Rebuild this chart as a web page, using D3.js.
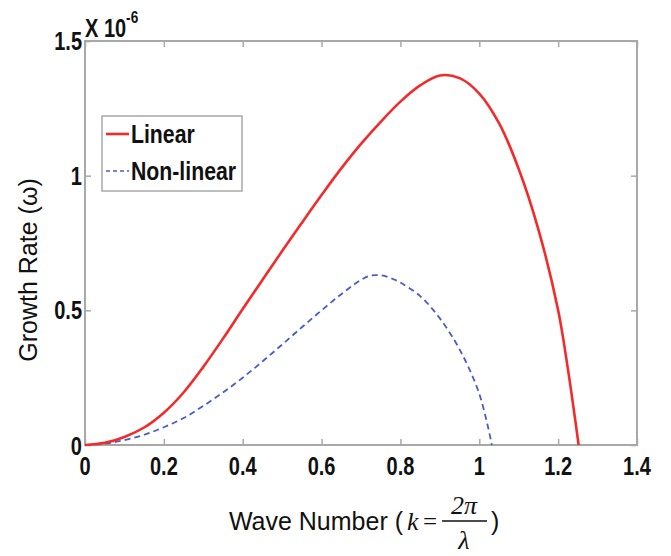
<!DOCTYPE html>
<html><head><meta charset="utf-8">
<script src="https://cdn.jsdelivr.net/npm/d3@7"></script>
<style>
body{margin:0;background:#fff;}
svg{display:block;}
.tick-lbl{font-family:"Liberation Sans",Arial,sans-serif;font-weight:bold;fill:#111;}
</style></head>
<body>
<svg id="chart" width="671" height="556"></svg>
<script>
const kLinear = [0,0.05,0.1,0.15,0.2,0.25,0.3,0.35,0.4,0.45,0.5,0.55,0.6,0.65,0.7,0.75,0.8,0.85,0.9,0.95,1.0,1.05,1.1,1.15,1.2,1.225,1.252];
const linear  = [0,0.008,0.03,0.065,0.12,0.195,0.29,0.395,0.505,0.613,0.72,0.825,0.928,1.027,1.118,1.2,1.275,1.335,1.372,1.362,1.305,1.195,1.025,0.8,0.5,0.28,0];
const kNonlinear = [0,0.05,0.1,0.15,0.2,0.25,0.3,0.35,0.4,0.45,0.5,0.55,0.6,0.65,0.7,0.725,0.75,0.775,0.8,0.85,0.9,0.95,1.0,1.032];
const nonlinear  = [0,0.005,0.018,0.038,0.066,0.1,0.145,0.195,0.25,0.31,0.373,0.437,0.5,0.56,0.613,0.629,0.63,0.62,0.603,0.553,0.47,0.355,0.19,0];
const xTicks = [0,0.2,0.4,0.6,0.8,1,1.2,1.4];
const yTicks = [0,0.5,1,1.5];
const seriesNames = ["Linear","Non-linear"];

const svg = d3.select("#chart");
const L=85,R=637,T=41,B=445;
const x = d3.scaleLinear().domain([0,1.4]).range([L,R]);
const y = d3.scaleLinear().domain([0,1.5]).range([B,T]);
const axisColor="#a8a8a8";

svg.append("rect").attr("x",L).attr("y",T).attr("width",R-L).attr("height",B-T)
  .attr("fill","none").attr("stroke",axisColor).attr("stroke-width",2);

const tl=6;
function styleAx(g){g.select(".domain").remove();g.selectAll("line").attr("stroke",axisColor).attr("stroke-width",1.5);}
svg.append("g").attr("transform",`translate(0,${B})`).call(d3.axisBottom(x).tickValues(xTicks).tickSize(-tl).tickFormat("")).call(styleAx);
svg.append("g").attr("transform",`translate(0,${T})`).call(d3.axisTop(x).tickValues(xTicks).tickSize(-tl).tickFormat("")).call(styleAx);
svg.append("g").attr("transform",`translate(${L},0)`).call(d3.axisLeft(y).tickValues(yTicks).tickSize(-tl).tickFormat("")).call(styleAx);
svg.append("g").attr("transform",`translate(${R},0)`).call(d3.axisRight(y).tickValues(yTicks).tickSize(-tl).tickFormat("")).call(styleAx);

const sx=0.8;
svg.append("g").selectAll("text").data(xTicks).join("text")
  .attr("class","tick-lbl").attr("transform",d=>`translate(${x(d)},${B+30}) scale(${sx},1)`)
  .attr("text-anchor","middle").attr("font-size",25).text(d=>d3.format("")(d));
svg.append("g").selectAll("text").data(yTicks).join("text")
  .attr("class","tick-lbl").attr("transform",d=>`translate(${L-3},${y(d)+(d===0?10:9)}) scale(${sx},1)`)
  .attr("text-anchor","end").attr("font-size",25).text(d=>d3.format("")(d));

const mult = svg.append("text").attr("class","tick-lbl").attr("transform","translate(85,37) scale(0.8,1)").attr("font-size",25);
mult.append("tspan").text("X 10");
mult.append("tspan").attr("dy",-14).attr("font-size",17).text("-6");

// x title
svg.append("text").attr("x",403).attr("y",530).attr("text-anchor","end")
  .attr("font-family","'Liberation Sans',Arial,sans-serif").attr("font-size",25).attr("fill","#111").text("Wave Number (");
const fx=svg.append("g").attr("font-family","'Liberation Serif','Times New Roman',serif").attr("fill","#111");
fx.append("text").attr("x",407).attr("y",530).attr("font-size",26).attr("font-style","italic").text("k");
fx.append("text").attr("x",423).attr("y",530).attr("font-size",25).text("=");
fx.append("text").attr("x",464).attr("y",514).attr("font-size",26).attr("text-anchor","middle").attr("font-style","italic").text("2π");
fx.append("line").attr("x1",442).attr("x2",487).attr("y1",521).attr("y2",521).attr("stroke","#111").attr("stroke-width",1.3);
fx.append("text").attr("x",464).attr("y",549).attr("font-size",26).attr("text-anchor","middle").attr("font-style","italic").text("λ");
svg.append("text").attr("x",491).attr("y",530)
  .attr("font-family","'Liberation Sans',Arial,sans-serif").attr("font-size",25).attr("fill","#111").text(")");

svg.append("text").attr("transform","translate(37,270) rotate(-90)")
  .attr("text-anchor","middle").attr("font-family","'Liberation Sans',Arial,sans-serif")
  .attr("font-size",25).attr("fill","#111").text("Growth Rate (ω)");

const line = d3.line().x(d=>x(d[0])).y(d=>y(d[1])).curve(d3.curveCatmullRom.alpha(0.5));
const redData = kLinear.map((k,i)=>[k,linear[i]]);
const blueData = kNonlinear.map((k,i)=>[k,nonlinear[i]]);
svg.append("path").datum(blueData).attr("d",line).attr("fill","none")
  .attr("stroke","#4a5cc4").attr("stroke-width",1.8).attr("stroke-dasharray","6,4");
svg.append("path").datum(redData).attr("d",line).attr("fill","none")
  .attr("stroke","#f42a2a").attr("stroke-width",2.6);

const lg = svg.append("g");
lg.append("rect").attr("x",102).attr("y",116).attr("width",140).attr("height",75)
  .attr("fill","#fff").attr("stroke",axisColor).attr("stroke-width",1.5);
const legItems=[{name:seriesNames[0],color:"#f42a2a",w:2.6,dash:null,y:134},
                {name:seriesNames[1],color:"#4a5cc4",w:1.6,dash:"4,3",y:171}];
legItems.forEach(it=>{
  lg.append("line").attr("x1",106).attr("x2",129).attr("y1",it.y).attr("y2",it.y)
    .attr("stroke",it.color).attr("stroke-width",it.w).attr("stroke-dasharray",it.dash);
  lg.append("text").attr("class","tick-lbl").attr("transform",`translate(131,${it.y+9}) scale(0.85,1)`)
    .attr("font-size",25).text(it.name);
});
</script>
</body></html>
